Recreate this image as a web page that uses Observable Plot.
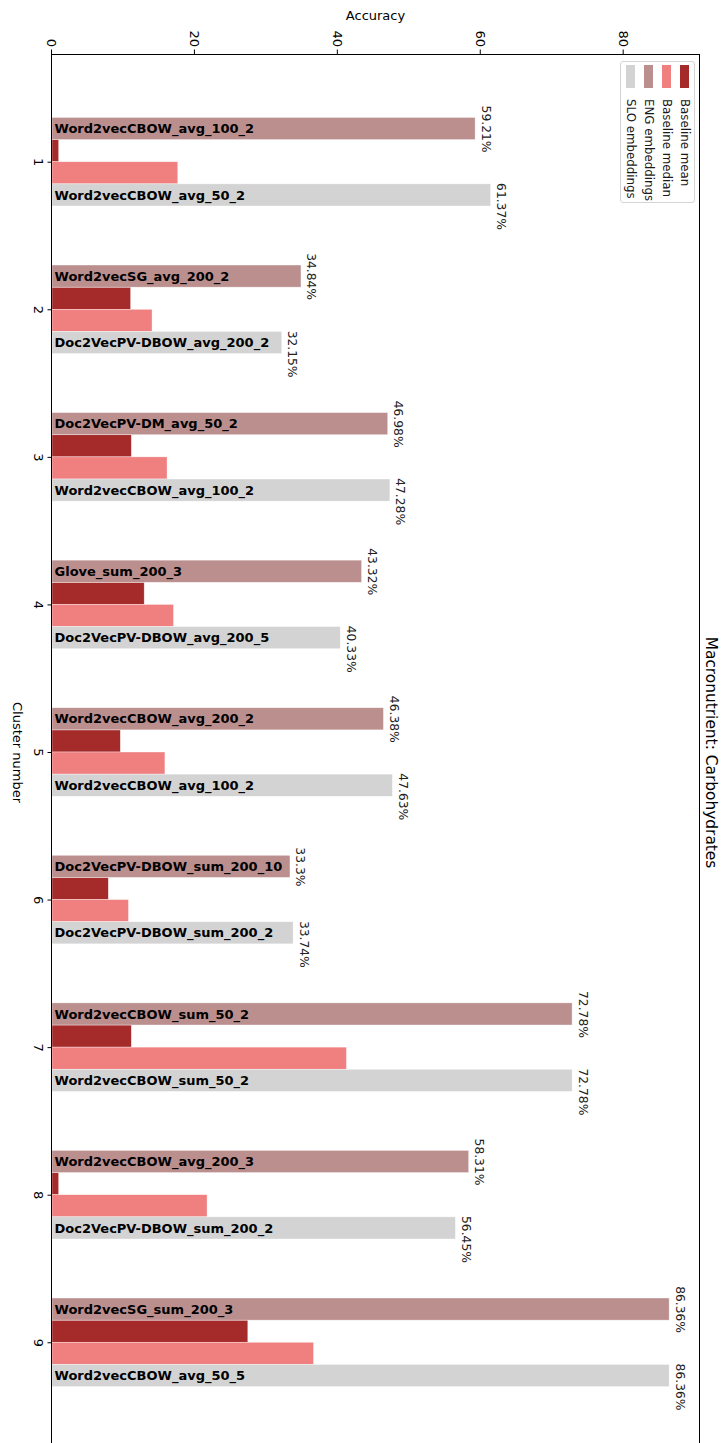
<!DOCTYPE html>
<html>
<head>
<meta charset="utf-8">
<script src="https://cdn.jsdelivr.net/npm/d3@7"></script>
<script src="https://cdn.jsdelivr.net/npm/@observablehq/plot@0.6"></script>
<style>
  html, body { margin: 0; padding: 0; background: #fff; overflow: hidden; width: 721px; height: 1443px; }
  #wrap { position: absolute; left: 0; top: 0; width: 1451px; height: 721px;
          transform-origin: 0 0; transform: translate(721px, 0) rotate(90deg);
          font-family: "DejaVu Sans", sans-serif; background: #fff; }
  #wrap svg { display: block; overflow: visible; }
  #legend { position: absolute; left: 61px; top: 26px; width: 142px; height: 75px; box-sizing: border-box;
            border: 1px solid #d4d4d4; border-radius: 3px; background: rgba(255,255,255,0.85);
            font-size: 11.8px; color: #1a1a1a; }
  #legend .row { height: 18px; display: flex; align-items: center; }
  #legend .sw { width: 23px; height: 9px; margin-left: 3px; margin-right: 11px; display: inline-block; }
</style>
</head>
<body>
<div id="wrap"><div id="legend"></div></div>
<script>
// ---- data ----
const clusters = [1, 2, 3, 4, 5, 6, 7, 8, 9];
const baselineMean   = [0.93, 11.0, 11.1, 12.9, 9.56, 7.88, 11.1, 0.93, 27.4];
const baselineMedian = [17.6, 14.0, 16.1, 17.0, 15.8, 10.7, 41.2, 21.7, 36.6];
const engAccuracy = [59.21, 34.84, 46.98, 43.32, 46.38, 33.3, 72.78, 58.31, 86.36];
const sloAccuracy = [61.37, 32.15, 47.28, 40.33, 47.63, 33.74, 72.78, 56.45, 86.36];
const engModels = ["Word2vecCBOW_avg_100_2", "Word2vecSG_avg_200_2", "Doc2VecPV-DM_avg_50_2",
  "Glove_sum_200_3", "Word2vecCBOW_avg_200_2", "Doc2VecPV-DBOW_sum_200_10",
  "Word2vecCBOW_sum_50_2", "Word2vecCBOW_avg_200_3", "Word2vecSG_sum_200_3"];
const sloModels = ["Word2vecCBOW_avg_50_2", "Doc2VecPV-DBOW_avg_200_2", "Word2vecCBOW_avg_100_2",
  "Doc2VecPV-DBOW_avg_200_5", "Word2vecCBOW_avg_100_2", "Doc2VecPV-DBOW_sum_200_2",
  "Word2vecCBOW_sum_50_2", "Doc2VecPV-DBOW_sum_200_2", "Word2vecCBOW_avg_50_5"];
const seriesNames = ["Baseline mean", "Baseline median", "ENG embeddings", "SLO embeddings"];
const seriesColors = ["#a52a2a", "#f08080", "#bc8f8f", "#d3d3d3"];
const accuracyTicks = [0, 20, 40, 60, 80];

// ---- table ----
const barW = 0.15;
const offsets = { "ENG embeddings": -0.3, "Baseline mean": -0.15, "Baseline median": 0, "SLO embeddings": 0.15 };
const valuesBy = { "Baseline mean": baselineMean, "Baseline median": baselineMedian,
                   "ENG embeddings": engAccuracy, "SLO embeddings": sloAccuracy };
const bars = [];
clusters.forEach((c, i) => {
  for (const s of seriesNames) {
    bars.push({ cluster: c, series: s, x1: c + offsets[s], x2: c + offsets[s] + barW, value: valuesBy[s][i],
      model: s === "ENG embeddings" ? engModels[i] : s === "SLO embeddings" ? sloModels[i] : null });
  }
});
const labeled = bars.filter(d => d.model);
const engBars = bars.filter(d => d.series === "ENG embeddings");
const sloBars = bars.filter(d => d.series === "SLO embeddings");

const chart = Plot.plot({
  width: 1451, height: 721,
  marginLeft: 54, marginTop: 21, marginBottom: 52, marginRight: 1,
  style: { fontFamily: "DejaVu Sans", fontSize: "13px", background: "white", color: "black", overflow: "visible" },
  x: { domain: [0.27, 9.73] },
  y: { domain: [0, 90.68] },
  color: { domain: seriesNames, range: seriesColors },
  marks: [
    Plot.rectY(bars, { x1: "x1", x2: "x2", y1: 0, y2: "value", fill: "series",
      stroke: "white", strokeWidth: 0.6, strokeOpacity: 0.6 }),
    Plot.text(labeled, { x: d => (d.x1 + d.x2) / 2, y: 0, text: "model", rotate: -90, textAnchor: "start",
      dy: -3, fontWeight: "bold", fontSize: 13, fill: "black" }),
    Plot.text(engBars, { x: d => (d.x1 + d.x2) / 2, y: "value", text: d => d.value + "%",
      lineAnchor: "bottom", dy: -7, fontSize: 12.3, fill: "#222" }),
    Plot.text(sloBars, { x: "x2", y: "value", text: d => d.value + "%",
      lineAnchor: "bottom", dy: -7, fontSize: 12.3, fill: "#222" }),
    Plot.axisX({ ticks: clusters, tickFormat: d => String(d), tickSize: 4.5, tickPadding: 3.5, label: null }),
    Plot.axisY({ ticks: accuracyTicks, tickFormat: d => String(d), tickSize: 4.5, tickPadding: 3, label: null }),
    Plot.frame({ stroke: "black", strokeWidth: 1 }),
    Plot.text(["Accuracy"], { text: d => d, frameAnchor: "left", dx: -39, rotate: -90,
      textAnchor: "middle", lineAnchor: "middle", fontSize: 13 }),
    Plot.text(["Cluster number"], { text: d => d, frameAnchor: "bottom", dy: 34,
      textAnchor: "middle", lineAnchor: "middle", fontSize: 13 }),
    Plot.text(["Macronutrient: Carbohydrates"], { text: d => d, frameAnchor: "top", dy: -11.5,
      textAnchor: "middle", lineAnchor: "middle", fontSize: 15.4 })
  ]
});
const wrap = document.getElementById("wrap");
wrap.insertBefore(chart, wrap.firstChild);

const legend = document.getElementById("legend");
seriesNames.forEach((name, i) => {
  const row = document.createElement("div");
  row.className = "row";
  const sw = document.createElement("span");
  sw.className = "sw";
  sw.style.background = seriesColors[i];
  row.appendChild(sw);
  row.appendChild(document.createTextNode(name));
  legend.appendChild(row);
});
</script>
</body>
</html>
